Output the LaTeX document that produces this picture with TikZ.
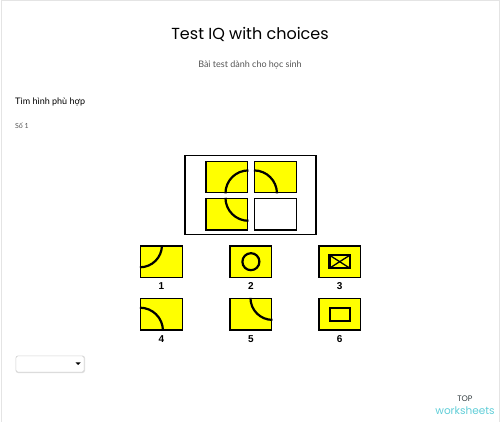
\documentclass[tikz,border=0pt]{standalone}
\usepackage{fontspec}
\setmainfont{Poppins}
\newfontfamily\vnfont{Lato}
\newfontfamily\arialfont{Liberation Sans}
\definecolor{lightframe}{RGB}{228,228,228}
\definecolor{subgray}{RGB}{85,85,85}
\definecolor{cellyellow}{RGB}{255,255,0}
\definecolor{wscyan}{RGB}{95,205,215}
\definecolor{topgray}{RGB}{50,60,64}
\tikzset{
  tile/.style={draw, line width=1.4pt, fill=cellyellow, minimum width=41.7pt, minimum height=31.4pt, inner sep=0pt},
  curve/.style={line width=2.2pt},
  inbox/.style={draw, line width=2.2pt, inner sep=0pt, outer sep=0pt},
  choice/.style={font=\arialfont\bfseries\fontsize{10}{10}\selectfont}
}
\begin{document}
\begin{tikzpicture}[x=1pt,y=1pt]
\useasboundingbox (0,0) rectangle (500,422);
\path[draw=lightframe,line width=1pt] (1,0) -- (1,421) -- (499,421) -- (499,0);

% header
\node[font=\fontsize{16}{20}\selectfont] (title) at (250,388) {Test IQ with choices};
\node[font=\vnfont\fontsize{9}{11}\selectfont, text=subgray] (subtitle) at (250,357) {Bài test dành cho học sinh};
\node[anchor=west, inner sep=0pt, font=\vnfont\fontsize{9}{11}\selectfont] (task) at (15,320) {Tìm hình phù hợp};
\node[anchor=west, inner sep=0pt, font=\vnfont\fontsize{7}{8}\selectfont, text=subgray] (num) at (15,296) {Số 1};

% puzzle
\node[draw, line width=1.4pt, minimum width=131pt, minimum height=78.5pt] (frame) at (250.5,227) {};
\node[tile] (tl) at (226.9,245) {};
\node[tile] (tr) at (275.5,245) {};
\node[tile] (bl) at (226.9,207.8) {};
\node[tile, fill=white] (br) at (275.5,207.8) {};

\path[draw,curve] (tl.south east) ++(-23,0) arc[start angle=180, end angle=90, radius=23];
\path[draw,curve] (tr.south west) ++(0,23) arc[start angle=90, end angle=0, radius=23];
\path[draw,curve] (bl.north east) ++(-23,0) arc[start angle=180, end angle=270, radius=23];

% choices
\node[tile] (c1) at (161.5,160.3) {};
\node[tile] (c2) at (250.9,160.3) {};
\node[tile] (c3) at (339.7,160.3) {};
\node[tile] (c4) at (161.5,107.7) {};
\node[tile] (c5) at (250.9,107.7) {};
\node[tile] (c6) at (339.7,107.7) {};

\path[draw,curve] (c1.north west) ++(0,-22) arc[start angle=270, end angle=360, radius=22];
\path[draw,curve] (c2.center) circle[radius=8.5];
\node[inbox, minimum width=20.5pt, minimum height=13.1pt] (env) at (c3.center) {};
\path[draw,line width=1.3pt] (env.north west) -- (env.south east);
\path[draw,line width=1.3pt] (env.north east) -- (env.south west);
\path[draw,curve] (c4.south west) ++(0,23) arc[start angle=90, end angle=0, radius=23];
\path[draw,curve] (c5.north east) ++(-22,0) arc[start angle=180, end angle=270, radius=22];
\node[inbox, minimum width=19.8pt, minimum height=13.2pt] (rect) at (c6.center) {};

\node[choice] (l1) at (161.5,136) {1};
\node[choice] (l2) at (250.9,136) {2};
\node[choice] (l3) at (339.7,136) {3};
\node[choice] (l4) at (161.5,83) {4};
\node[choice] (l5) at (250.9,83) {5};
\node[choice] (l6) at (339.7,83) {6};

% answer box
\node[draw=gray!25, line width=1.5pt, rounded corners=2pt, minimum width=68pt, minimum height=16pt] (shade) at (50.3,57.7) {};
\node[draw=gray!40, rounded corners=2pt, fill=white, minimum width=68pt, minimum height=16pt] (select) at (50,58) {};
\path[fill=black] (select.east) ++(-8.5,1.5) -- ++(5,0) -- ++(-2.5,-2.5) -- cycle;

% logo
\node[text=topgray, font=\fontsize{8}{8}\selectfont] (top) at (465,23) {TOP};
\node[text=wscyan, font=\fontsize{10.5}{11}\selectfont] (ws) at (465,11) {worksheets};
\end{tikzpicture}
\end{document}
